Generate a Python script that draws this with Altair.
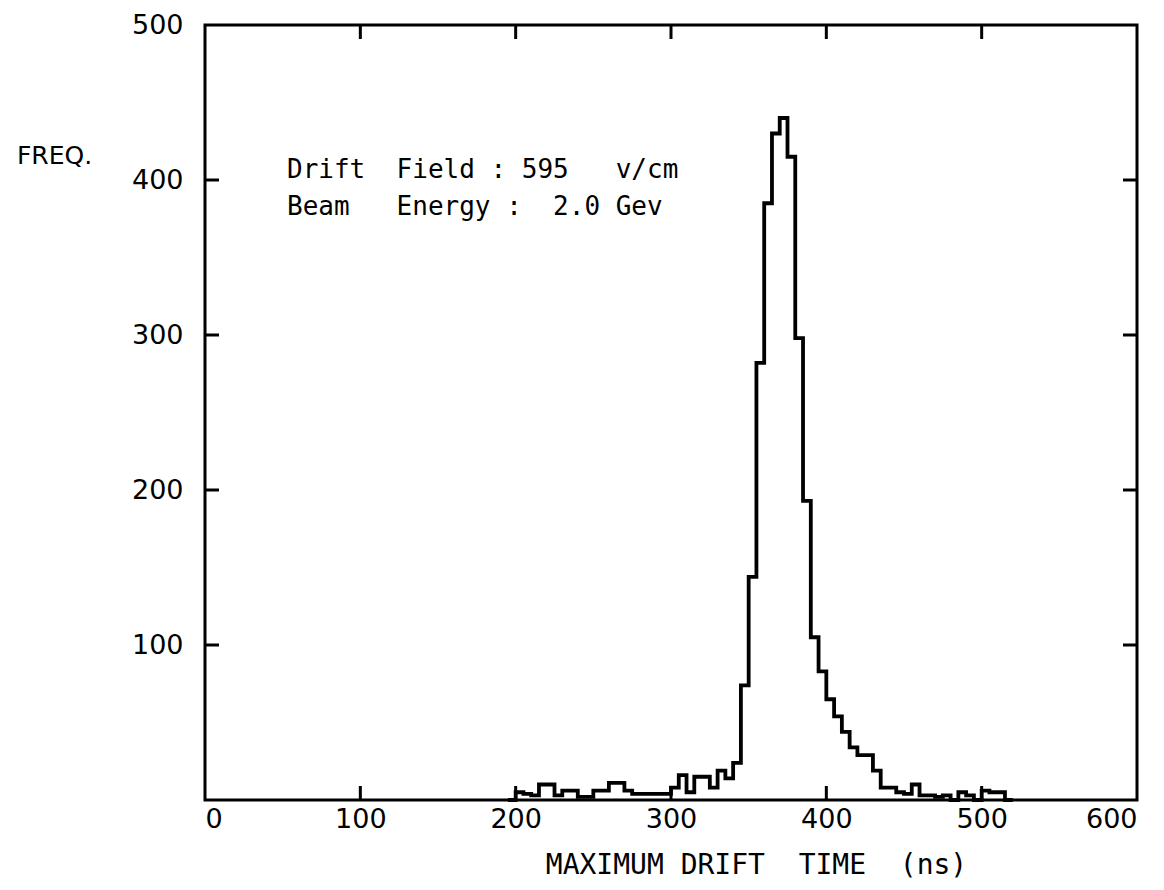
import altair as alt
import pandas as pd

# histogram: bin lower edges (ns), width 5 ns, and counts
bin_lo = [195, 200, 205, 210, 215, 220, 225, 230, 235, 240, 245, 250, 255, 260, 265, 270,
          275, 280, 285, 290, 295, 300, 305, 310, 315, 320, 325, 330, 335, 340, 345, 350,
          355, 360, 365, 370, 375, 380, 385, 390, 395, 400, 405, 410, 415, 420, 425, 430,
          435, 440, 445, 450, 455, 460, 465, 470, 475, 480, 485, 490, 495, 500, 505, 510,
          515, 520]
counts = [0, 5, 4, 3, 10, 10, 3, 6, 6, 2, 2, 6, 6, 11, 11, 6,
          4, 4, 4, 4, 4, 8, 16, 5, 15, 15, 8, 19, 14, 24, 74, 144,
          282, 385, 430, 440, 415, 298, 193, 105, 83, 65, 54, 44, 34, 29, 29, 19,
          8, 8, 5, 4, 10, 3, 3, 2, 3, 0, 5, 3, 0, 6, 5, 5,
          0, 0]

x_ticks = [100, 200, 300, 400, 500]
y_ticks = [100, 200, 300, 400]
annot = ["Drift\u00a0\u00a0Field\u00a0:\u00a0595\u00a0\u00a0\u00a0v/cm",
         "Beam\u00a0\u00a0\u00a0Energy\u00a0:\u00a0\u00a02.0\u00a0Gev"]
x_title = "MAXIMUM\u00a0DRIFT\u00a0\u00a0TIME\u00a0\u00a0(ns)"

W, H = 932, 775
FONT = "DejaVu Sans"
MONO = "DejaVu Sans Mono"

hist = pd.DataFrame({"t": bin_lo, "n": counts})
xs = alt.Scale(domain=[0, 600], nice=False)
ys = alt.Scale(domain=[0, 500], nice=False)

line = alt.Chart(hist).mark_line(interpolate="step-after", color="black", strokeWidth=3.8).encode(
    x=alt.X("t:Q", scale=xs,
            axis=alt.Axis(values=[0, 100, 200, 300, 400, 500, 600], ticks=False, domain=False,
                          grid=False, labelFont=FONT, labelFontSize=27, labelColor="black",
                          labelPadding=6, title=x_title,
                          titleFont=MONO, titleFontSize=28, titleFontWeight="normal",
                          titleColor="black", titleX=551, titleY=73, titleAlign="center",
                          titleBaseline="alphabetic")),
    y=alt.Y("n:Q", scale=ys,
            axis=alt.Axis(values=[100, 200, 300, 400, 500], ticks=False, domain=False, grid=False,
                          labelFont=FONT, labelFontSize=27, labelColor="black", labelPadding=22,
                          title="FREQ.", titleAngle=0, titleFont=FONT, titleFontSize=25,
                          titleFontWeight="normal", titleColor="black", titleX=-151, titleY=138,
                          titleAlign="center", titleBaseline="alphabetic")),
)

tx = pd.DataFrame({"v": x_ticks})
ty = pd.DataFrame({"v": y_ticks})
tick_bottom = alt.Chart(tx).mark_rule(color="black", strokeWidth=3).encode(
    x=alt.X("v:Q", scale=xs), y=alt.value(H), y2=alt.value(H - 14))
tick_top = alt.Chart(tx).mark_rule(color="black", strokeWidth=3).encode(
    x=alt.X("v:Q", scale=xs), y=alt.value(0), y2=alt.value(14))
tick_left = alt.Chart(ty).mark_rule(color="black", strokeWidth=3).encode(
    y=alt.Y("v:Q", scale=ys), x=alt.value(0), x2=alt.value(14))
tick_right = alt.Chart(ty).mark_rule(color="black", strokeWidth=3).encode(
    y=alt.Y("v:Q", scale=ys), x=alt.value(W), x2=alt.value(W - 14))

texts = []
for i, s in enumerate(annot):
    texts.append(
        alt.Chart(pd.DataFrame({"txt": [s]})).mark_text(
            align="left", baseline="alphabetic", font=MONO, fontSize=26, color="black"
        ).encode(x=alt.value(82), y=alt.value(153 + 37 * i), text="txt:N")
    )

chart = alt.layer(line, tick_bottom, tick_top, tick_left, tick_right, *texts).properties(
    width=W, height=H,
    autosize=alt.AutoSizeParams(type="none"),
    padding={"left": 197, "top": 17, "right": 19, "bottom": 82},
).configure(background="white", view=alt.ViewConfig(stroke="black", strokeWidth=3))

chart.save("out.html", embed_options={"renderer": "svg", "actions": False})
